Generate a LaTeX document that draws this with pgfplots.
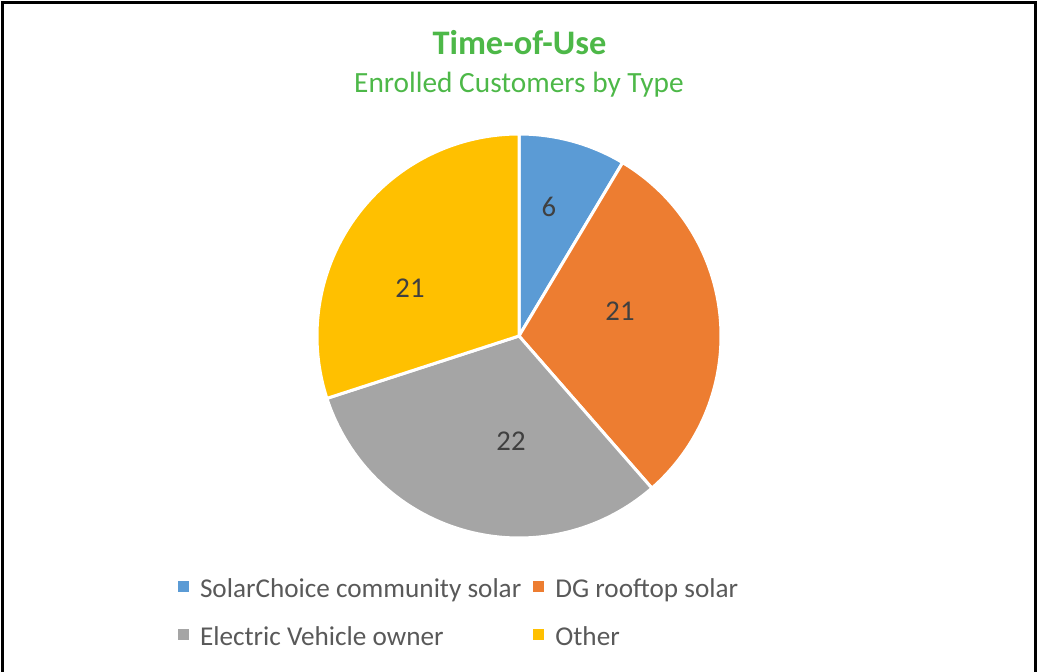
\documentclass[border=0pt]{standalone}
\usepackage{fontspec}
\setmainfont{Carlito}
\usepackage{pgfplots}
\usepackage{pgfplotstable}
\pgfplotsset{compat=1.18}
\definecolor{cBlue}{HTML}{5B9BD5}
\definecolor{cOrange}{HTML}{ED7D31}
\definecolor{cGray}{HTML}{A5A5A5}
\definecolor{cYellow}{HTML}{FFC000}
\definecolor{cGreen}{HTML}{4DB848}
\definecolor{cLabel}{HTML}{404040}
\definecolor{cLegend}{HTML}{595959}
\pgfplotstableread{
label value
SolarChoice 6
DG 21
EV 22
Other 21
}\piedata
\begin{document}
\begin{tikzpicture}
\pgfplotstablegetelem{0}{value}\of\piedata \let\va\pgfplotsretval
\pgfplotstablegetelem{1}{value}\of\piedata \let\vb\pgfplotsretval
\pgfplotstablegetelem{2}{value}\of\piedata \let\vc\pgfplotsretval
\pgfplotstablegetelem{3}{value}\of\piedata \let\vd\pgfplotsretval
\pgfmathsetmacro{\tot}{\va+\vb+\vc+\vd}
\pgfmathsetmacro{\aA}{90}
\pgfmathsetmacro{\aB}{\aA-360*\va/\tot}
\pgfmathsetmacro{\aC}{\aB-360*\vb/\tot}
\pgfmathsetmacro{\aD}{\aC-360*\vc/\tot}
\pgfmathsetmacro{\aE}{\aD-360*\vd/\tot}
\begin{axis}[
  at={(0,0)}, anchor=south west,
  scale only axis, width=777.75pt, height=503.25pt,
  xmin=0, xmax=1037, ymin=-671, ymax=0,
  hide axis, clip=false,
  legend columns=2,
  legend cell align=left,
  legend image code/.code={
    \fill[#1,draw=none] (0pt,-1.5pt) rectangle (8.25pt,6.75pt);
    \path (0pt,0pt) (15.75pt,0pt);
  },
  legend style={
    at={(axis cs:176,-577)}, anchor=north west,
    draw=none, fill=none, inner sep=0pt, outer sep=0pt,
    font=\fontsize{20.4}{24}\selectfont, text=cLegend,
    row sep=16pt,
    nodes={inner sep=0pt, text height=15pt, text depth=5pt},
    /tikz/every even column/.append style={column sep=7.5pt},
  },
]
\addplot[fill=cBlue, draw=white, line width=2.25pt, domain=\aB:\aA, samples=60, variable=\t]
  ({519+202*cos(\t)},{-336+202*sin(\t)}) -- (axis cs:519,-336) -- cycle;
\addlegendentry{SolarChoice community solar}
\addplot[fill=cOrange, draw=white, line width=2.25pt, domain=\aC:\aB, samples=80, variable=\t]
  ({519+202*cos(\t)},{-336+202*sin(\t)}) -- (axis cs:519,-336) -- cycle;
\addlegendentry{DG rooftop solar}
\addplot[fill=cGray, draw=white, line width=2.25pt, domain=\aD:\aC, samples=80, variable=\t]
  ({519+202*cos(\t)},{-336+202*sin(\t)}) -- (axis cs:519,-336) -- cycle;
\addlegendentry{Electric Vehicle owner}
\addplot[fill=cYellow, draw=white, line width=2.25pt, domain=\aE:\aD, samples=80, variable=\t]
  ({519+202*cos(\t)},{-336+202*sin(\t)}) -- (axis cs:519,-336) -- cycle;
\addlegendentry{Other}
% data labels
\node[font=\fontsize{21.5}{24}\selectfont, text=cLabel] at (axis cs:549,-207) {\va};
\node[font=\fontsize{21.5}{24}\selectfont, text=cLabel] at (axis cs:620,-311) {\vb};
\node[font=\fontsize{21.5}{24}\selectfont, text=cLabel] at (axis cs:511,-441) {\vc};
\node[font=\fontsize{21.5}{24}\selectfont, text=cLabel] at (axis cs:410,-288) {\vd};
% titles
\node[anchor=base, font=\fontsize{25.8}{30}\selectfont\bfseries, text=cGreen] at (axis cs:519.5,-55) {Time-of-Use};
\node[anchor=base, font=\fontsize{22}{26}\selectfont, text=cGreen] at (axis cs:519,-92.5) {Enrolled Customers by Type};
% frame
\draw[line width=2.25pt, line cap=rect] (axis cs:2.5,-680) -- (axis cs:2.5,-2.5) -- (axis cs:1035.5,-2.5) -- (axis cs:1035.5,-680);
\end{axis}
\pgfresetboundingbox
\path (0,0) rectangle (777.75pt,503.25pt);
\end{tikzpicture}
\end{document}
